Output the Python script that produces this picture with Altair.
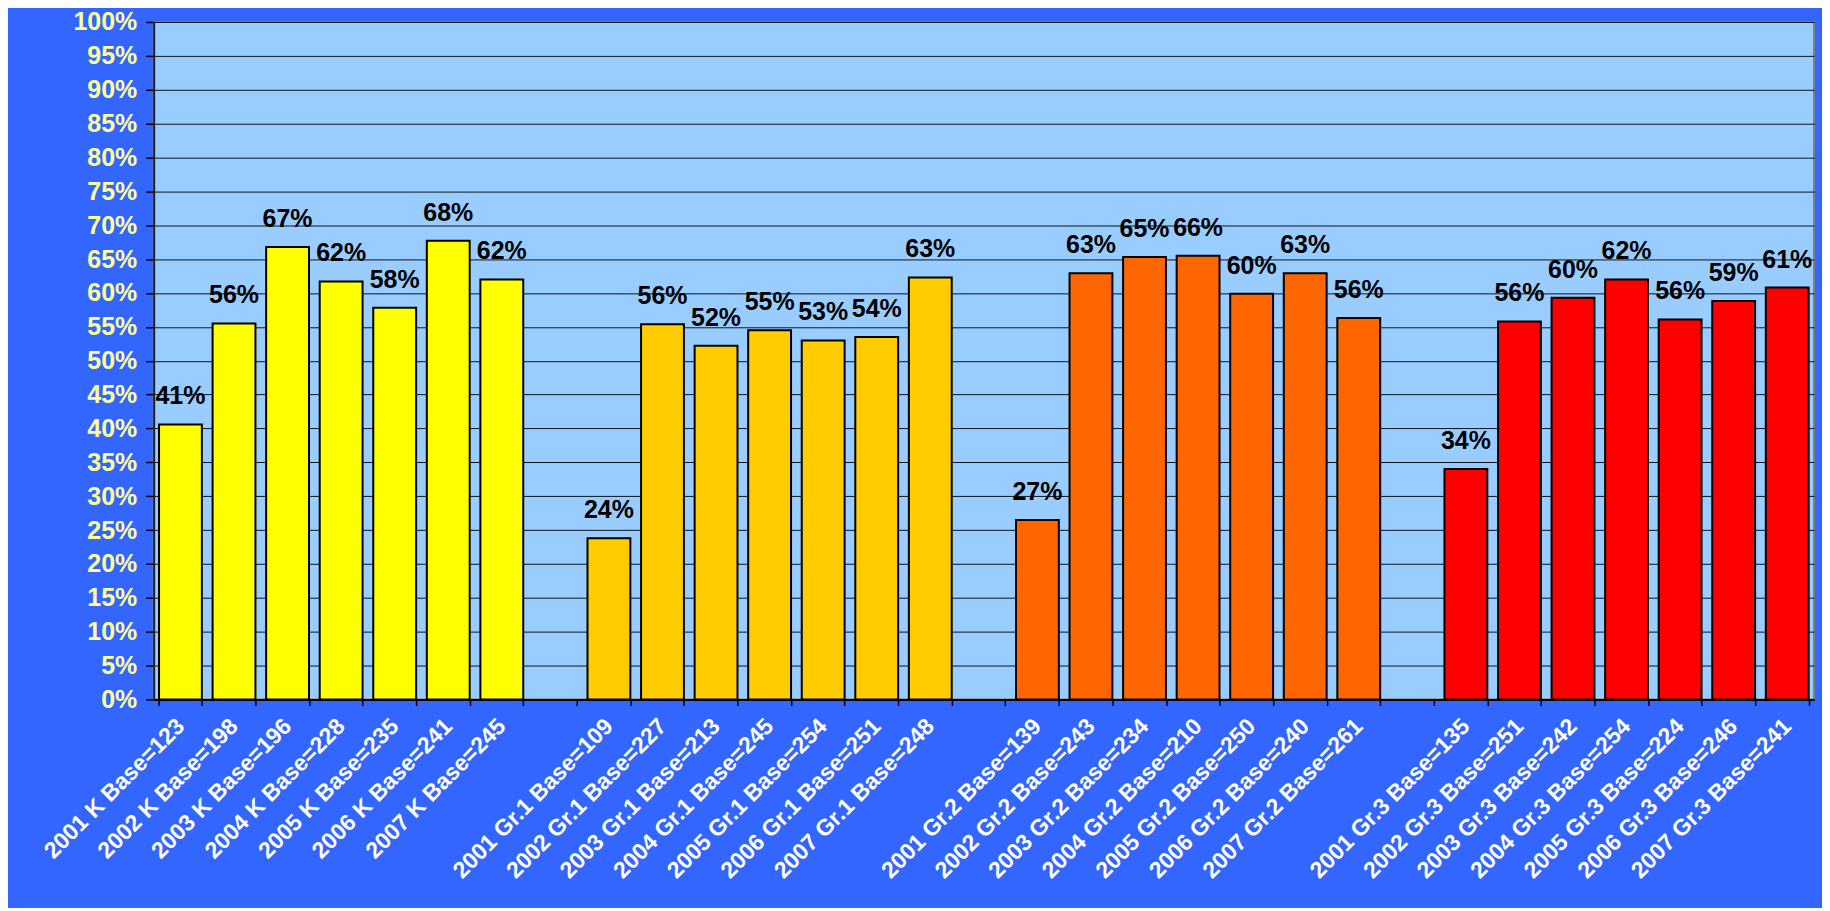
import altair as alt
import pandas as pd

years = ["2001", "2002", "2003", "2004", "2005", "2006", "2007"]
groups = ["K", "Gr.1", "Gr.2", "Gr.3"]
group_colors = ["#FFFF00", "#FFCC00", "#FF6600", "#FF0000"]

bases_k = [123, 198, 196, 228, 235, 241, 245]
bases_g1 = [109, 227, 213, 245, 254, 251, 248]
bases_g2 = [139, 243, 234, 210, 250, 240, 261]
bases_g3 = [135, 251, 242, 254, 224, 246, 241]

values_k = [0.406, 0.555, 0.668, 0.617, 0.578, 0.677, 0.620]
values_g1 = [0.238, 0.554, 0.522, 0.545, 0.530, 0.535, 0.623]
values_g2 = [0.265, 0.629, 0.653, 0.655, 0.599, 0.629, 0.563]
values_g3 = [0.340, 0.558, 0.593, 0.620, 0.561, 0.588, 0.608]

labels_k = ["41%", "56%", "67%", "62%", "58%", "68%", "62%"]
labels_g1 = ["24%", "56%", "52%", "55%", "53%", "54%", "63%"]
labels_g2 = ["27%", "63%", "65%", "66%", "60%", "63%", "56%"]
labels_g3 = ["34%", "56%", "60%", "62%", "56%", "59%", "61%"]

y_ticks = [0, 0.05, 0.1, 0.15, 0.2, 0.25, 0.3, 0.35, 0.4, 0.45, 0.5,
           0.55, 0.6, 0.65, 0.7, 0.75, 0.8, 0.85, 0.9, 0.95, 1.0]

rows = []
domain = []
all_bases = [bases_k, bases_g1, bases_g2, bases_g3]
all_values = [values_k, values_g1, values_g2, values_g3]
all_labels = [labels_k, labels_g1, labels_g2, labels_g3]
for gi, g in enumerate(groups):
    if gi > 0:
        domain.append(f"gap{gi}")
    for yi, yr in enumerate(years):
        cat = f"{yr} {g} Base={all_bases[gi][yi]}"
        domain.append(cat)
        rows.append({"cat": cat, "group": g, "value": all_values[gi][yi],
                     "pct": all_labels[gi][yi]})
df = pd.DataFrame(rows)

FONT = "Liberation Sans"

x_enc = alt.X(
    "cat:N",
    sort=None,
    scale=alt.Scale(domain=domain, paddingInner=0.2, paddingOuter=0.1),
    axis=alt.Axis(
        title=None,
        labelAngle=-45,
        labelAlign="right",
        labelBaseline="top",
        labelFontSize=23,
        labelFontWeight="bold",
        labelFont=FONT,
        labelColor="#FFFFFF",
        labelOffset=-8,
        labelPadding=9,
        labelLimit=0,
        labelOverlap=False,
        labelExpr="indexof(datum.label, 'gap') == 0 ? '' : datum.label",
        tickBand="extent",
        ticks=True,
        tickSize=6,
        tickColor="#000000",
        tickWidth=1.5,
        domainColor="#000000",
        domainWidth=2,
        grid=False,
    ),
)
y_enc = alt.Y(
    "value:Q",
    scale=alt.Scale(domain=[0, 1], nice=False),
    axis=alt.Axis(
        title=None,
        values=y_ticks,
        tickCount=40,
        format=".0%",
        labelFontSize=25,
        labelFontWeight="bold",
        labelFont=FONT,
        labelColor="#FFFF99",
        labelPadding=9,
        labelOverlap=False,
        labelFlush=False,
        tickSize=8,
        tickColor="#000000",
        tickWidth=1.5,
        domainColor="#222222",
        domainWidth=2,
        grid=True,
        gridColor="#000000",
        gridWidth=1,
        gridOpacity=0.9,
    ),
)

bars = alt.Chart(df).mark_bar(stroke="#000000", strokeWidth=2).encode(
    x=x_enc,
    y=y_enc,
    color=alt.Color("group:N", scale=alt.Scale(domain=groups, range=group_colors), legend=None),
)

text = alt.Chart(df).mark_text(
    font=FONT, fontSize=25, fontWeight="bold", color="#000000",
    baseline="alphabetic", dy=-20,
).encode(x=x_enc, y=y_enc, text="pct:N")

chart = (
    alt.layer(bars, text)
    .properties(
        width=1664,
        height=679,
        autosize=alt.AutoSizeParams(type="none"),
        padding={"left": 146, "top": 13, "right": 8, "bottom": 208},
    )
    .configure(background="#3366FF")
    .configure_view(fill="#99CCFF", stroke="#808080", strokeWidth=2)
)

chart.save("out.html", embed_options={"renderer": "svg", "actions": False})
